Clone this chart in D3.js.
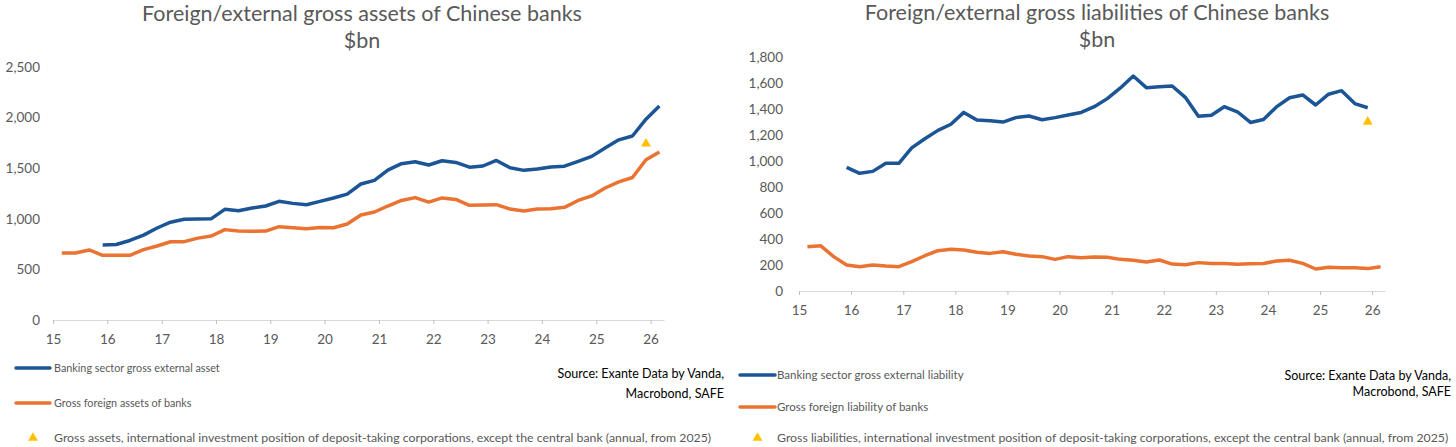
<!DOCTYPE html>
<html>
<head>
<meta charset="utf-8">
<script src="https://cdn.jsdelivr.net/npm/d3@7"></script>
<style>
  html, body { margin: 0; padding: 0; background: #fff; }
  svg { display: block; font-family: Lato, "Open Sans", sans-serif; }
</style>
</head>
<body>
<div id="chart-area"></div>
<script>
// quarter categories, 2015Q1 .. 2026Q1
function quarterRange(y0, q0, y1, q1) {
    var out = [];
    for (var y = y0; y <= y1; y++) {
        for (var q = 1; q <= 4; q++) {
            if (y == y0 && q < q0) continue;
            if (y == y1 && q > q1) continue;
            out.push(y + "Q" + q);
        }
    }
    return out;
}
var quartersAll = quarterRange(2015, 1, 2026, 1);   // orange series
var quartersAssetBlue = quarterRange(2015, 4, 2026, 1);
var quartersLiabBlue = quarterRange(2015, 4, 2025, 4);

// $bn
var assetsBanking = [740, 745, 785, 838, 908, 965, 994, 998, 1000, 1092, 1079, 1106, 1125,
    1171, 1151, 1138, 1171, 1204, 1243, 1342, 1378, 1480, 1543, 1562, 1530, 1572, 1555,
    1508, 1520, 1575, 1502, 1477, 1490, 1511, 1518, 1565, 1615, 1698, 1778, 1816, 1982, 2112];
var assetsForeign = [662, 662, 691, 639, 638, 639, 694, 730, 772, 773, 808, 829, 892, 878,
    876, 878, 921, 911, 901, 914, 911, 947, 1036, 1066, 1125, 1180, 1208, 1164, 1205, 1190,
    1132, 1135, 1138, 1095, 1076, 1095, 1099, 1112, 1180, 1225, 1303, 1364, 1406, 1582, 1658];
var liabBanking = [950, 904, 919, 981, 981, 1100, 1170, 1234, 1281, 1372, 1313, 1308, 1298,
    1332, 1344, 1316, 1332, 1352, 1372, 1416, 1478, 1558, 1652, 1562, 1570, 1575, 1488,
    1342, 1350, 1416, 1377, 1295, 1318, 1414, 1485, 1506, 1429, 1512, 1539, 1440, 1408];
var liabForeign = [340, 348, 264, 200, 187, 200, 192, 187, 225, 271, 310, 320, 315, 297,
    289, 302, 282, 269, 264, 243, 264, 256, 261, 259, 243, 236, 223, 238, 207, 202, 218,
    212, 212, 205, 210, 212, 230, 236, 212, 169, 182, 179, 179, 172, 187];

// annual IIP points
var assetsIIP = [{ q: "2025Q4", v: 1740 }];
var liabIIP = [{ q: "2025Q4", v: 1300 }];

var assetTicks = [0, 500, 1000, 1500, 2000, 2500];
var liabTicks = [0, 200, 400, 600, 800, 1000, 1200, 1400, 1600, 1800];

var blue = "#1c5596",
    orange = "#ea7331",
    gold = "#ffc000",
    grey = "#595959";

function qDate(s) {
    var y = +s.slice(0, 4), q = +s.slice(5);
    return new Date(y, q * 3 - 1, 1);
}
function zip(qs, vals) {
    return qs.map(function(q, i) { return { date: qDate(q), v: vals[i] }; });
}

var width = 1456, height = 447;
var svg = d3.select("#chart-area").append("svg")
    .attr("width", width)
    .attr("height", height);

drawPanel({
    title: "Foreign/external gross assets of Chinese banks",
    titleX: 362, titleY: 21, unitY: 48,
    x0: 53, x1: 664, yBottom: 320, yTop: 66.7,
    yMax: 2500, yTicks: assetTicks, labelPad: 13,
    blueData: zip(quartersAssetBlue, assetsBanking),
    orangeData: zip(quartersAll, assetsForeign),
    iip: assetsIIP,
    legend: {
        lineX: 16, lineW: 34, textX: 54, rows: [368, 403, 438], fontSize: 10.8,
        labels: ["Banking sector gross external asset", "Gross foreign assets of banks",
            "Gross assets, international investment position of deposit-taking corporations, except the central bank (annual, from 2025)"]
    },
    sourceX: 724, sourceY: [378, 398]
});

drawPanel({
    title: "Foreign/external gross liabilities of Chinese banks",
    titleX: 1097, titleY: 20, unitY: 47,
    x0: 799, x1: 1385, yBottom: 291, yTop: 56.7,
    yMax: 1800, yTicks: liabTicks, labelPad: 16,
    blueData: zip(quartersLiabBlue, liabBanking),
    orangeData: zip(quartersAll, liabForeign),
    iip: liabIIP,
    legend: {
        lineX: 740, lineW: 35, textX: 777, rows: [375, 407, 438], fontSize: 11.5,
        labels: ["Banking sector gross external liability", "Gross foreign liability of banks",
            "Gross liabilities, international investment position of deposit-taking corporations, except the central bank (annual, from 2025)"]
    },
    sourceX: 1451, sourceY: [380, 396]
});

function drawPanel(c) {
    var g = svg.append("g");

    var x = d3.scaleTime()
        .domain([new Date(2015, 0, 1), new Date(2026, 3, 1)])
        .range([c.x0, c.x1]);
    var y = d3.scaleLinear()
        .domain([0, c.yMax])
        .range([c.yBottom, c.yTop]);

    // titles
    g.append("text")
        .attr("x", c.titleX).attr("y", c.titleY)
        .attr("text-anchor", "middle")
        .style("font-size", "21.5px").style("fill", grey)
        .text(c.title);
    g.append("text")
        .attr("x", c.titleX).attr("y", c.unitY)
        .attr("text-anchor", "middle")
        .style("font-size", "21.5px").style("fill", grey)
        .text("$bn");

    // x axis
    var xAxis = g.append("g")
        .attr("transform", "translate(0," + c.yBottom + ")")
        .call(d3.axisBottom(x)
            .ticks(d3.timeYear.every(1))
            .tickFormat(d3.timeFormat("%y"))
            .tickSizeInner(4).tickSizeOuter(0)
            .tickPadding(10));
    xAxis.select(".domain").attr("stroke", "#d9d9d9");
    xAxis.selectAll(".tick line").attr("stroke", "#bfbfbf");
    xAxis.selectAll(".tick text")
        .style("font-size", "13.5px").style("fill", grey)
        .style("font-family", "Lato, sans-serif");

    // y axis, labels only
    var yAxis = g.append("g")
        .attr("transform", "translate(" + c.x0 + ",0)")
        .call(d3.axisLeft(y)
            .tickValues(c.yTicks)
            .tickFormat(d3.format(","))
            .tickSize(0)
            .tickPadding(c.labelPad));
    yAxis.select(".domain").remove();
    yAxis.selectAll(".tick text")
        .style("font-size", "13.5px").style("fill", grey)
        .style("font-family", "Lato, sans-serif");

    var line = d3.line()
        .x(function(d) { return x(d.date); })
        .y(function(d) { return y(d.v); });

    g.append("path")
        .datum(c.orangeData)
        .attr("d", line)
        .attr("fill", "none")
        .attr("stroke", orange)
        .attr("stroke-width", 3.5)
        .attr("stroke-linejoin", "round");

    g.append("path")
        .datum(c.blueData)
        .attr("d", line)
        .attr("fill", "none")
        .attr("stroke", blue)
        .attr("stroke-width", 3.5)
        .attr("stroke-linejoin", "round");

    var tri = d3.symbol().type(d3.symbolTriangle).size(42);
    g.selectAll(".iip").data(c.iip).enter().append("path")
        .attr("class", "iip")
        .attr("d", tri)
        .attr("transform", function(d) { return "translate(" + x(qDate(d.q)) + "," + y(d.v) + ")"; })
        .attr("fill", gold);

    // legend
    var L = c.legend;
    [blue, orange].forEach(function(col, i) {
        g.append("line")
            .attr("x1", L.lineX).attr("x2", L.lineX + L.lineW)
            .attr("y1", L.rows[i]).attr("y2", L.rows[i])
            .attr("stroke", col).attr("stroke-width", 3.5)
            .attr("stroke-linecap", "round");
        g.append("text")
            .attr("x", L.textX).attr("y", L.rows[i])
            .attr("dy", "0.35em")
            .style("font-size", L.fontSize + "px").style("fill", grey)
            .text(L.labels[i]);
    });
    g.append("path")
        .attr("d", tri)
        .attr("transform", "translate(" + (L.lineX + L.lineW / 2) + "," + L.rows[2] + ")")
        .attr("fill", gold);
    g.append("text")
        .attr("x", L.textX).attr("y", L.rows[2])
        .attr("dy", "0.35em")
        .style("font-size", "12.3px").style("fill", grey)
        .text(L.labels[2]);

    // source note
    ["Source: Exante Data by Vanda,", "Macrobond, SAFE"].forEach(function(s, i) {
        g.append("text")
            .attr("x", c.sourceX).attr("y", c.sourceY[i])
            .attr("text-anchor", "end")
            .style("font-size", "12.5px").style("fill", "#000")
            .text(s);
    });
}
</script>
</body>
</html>
